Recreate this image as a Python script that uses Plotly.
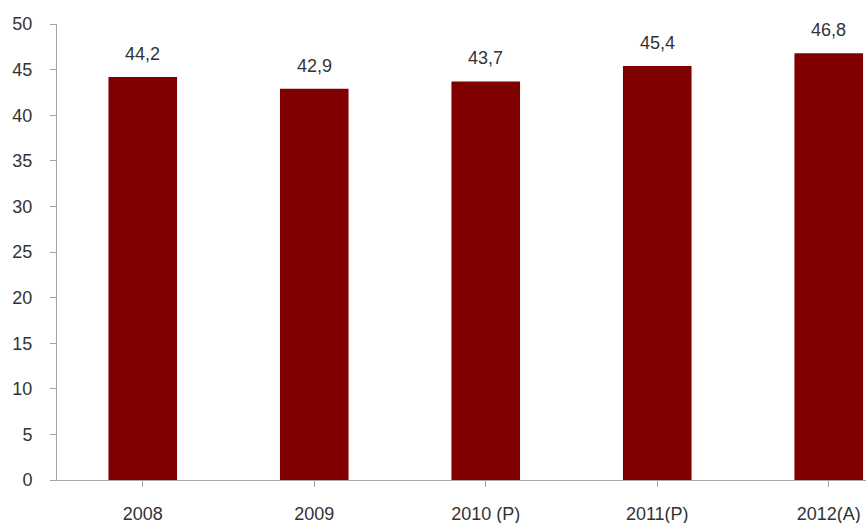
import plotly.graph_objects as go

categories = ["2008", "2009", "2010 (P)", "2011(P)", "2012(A)"]
values = [44.2, 42.9, 43.7, 45.4, 46.8]
value_labels = ["44,2", "42,9", "43,7", "45,4", "46,8"]
y_ticks = [0, 5, 10, 15, 20, 25, 30, 35, 40, 45, 50]

BAR = "#800000"
AXIS = "#A6A6A6"
TEXT = "#333333"
FONT = "Liberation Sans, Arial, sans-serif"

fig = go.Figure()
fig.add_trace(go.Bar(
    x=list(range(len(categories))), y=values,
    marker=dict(color=BAR, line=dict(width=0)),
    width=0.4,
    hoverinfo="skip",
))

for i, (v, lab) in enumerate(zip(values, value_labels)):
    fig.add_annotation(x=i, y=v, text=lab, showarrow=False,
                       yanchor="bottom", yshift=11,
                       font=dict(family=FONT, size=18, color=TEXT))

fig.update_layout(
    width=866, height=523,
    margin=dict(l=57, r=0, t=24, b=43, pad=0),
    plot_bgcolor="white", paper_bgcolor="white",
    showlegend=False,
    bargap=0.6,
    font=dict(family=FONT, size=18, color=TEXT),
    xaxis=dict(
        range=[-0.5, -0.5 + 809 / 171.5],
        tickmode="array",
        tickvals=list(range(len(categories))),
        ticktext=categories,
        tickson="boundaries",
        ticks="outside", ticklen=6, tickcolor=AXIS, tickwidth=1,
        showline=True, linecolor=AXIS, linewidth=1,
        showgrid=False, zeroline=False,
        ticklabelstandoff=11,
        automargin=False,
        tickfont=dict(family=FONT, size=18, color=TEXT),
    ),
    yaxis=dict(
        range=[0, 50],
        tickmode="array", tickvals=y_ticks,
        ticks="outside", ticklen=6, tickcolor=AXIS, tickwidth=1,
        showline=True, linecolor=AXIS, linewidth=1,
        showgrid=False, zeroline=False,
        ticklabelstandoff=14,
        automargin=False,
        tickfont=dict(family=FONT, size=18, color=TEXT),
    ),
)

fig.write_html(
    "out.html",
    config={"displayModeBar": False, "staticPlot": True},
    post_script="document.body.style.margin='0px';document.body.style.overflow='hidden';",
)
